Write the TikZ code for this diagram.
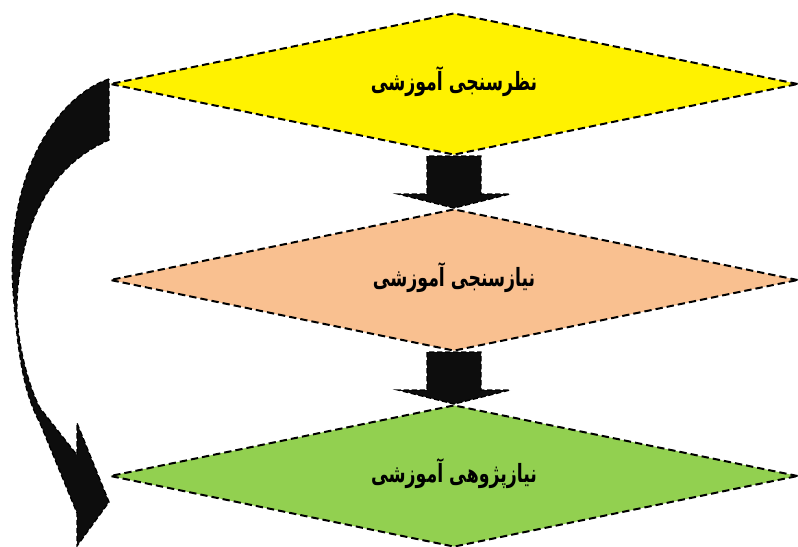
\documentclass[tikz,border=0pt]{standalone}
\usepackage{fontspec}
\newfontfamily\arabicfont[Script=Arabic]{DejaVu Sans}
\TeXXeTstate=1
\usetikzlibrary{shapes.geometric,positioning,calc}
\definecolor{peach}{HTML}{F9C090}
\definecolor{leaf}{HTML}{92D050}
\newcommand{\farsi}[1]{\raisebox{9pt}{\scalebox{1}[1.45]{\beginR #1\endR}}}

\begin{document}
\begin{tikzpicture}[x=0.75pt,y=-0.75pt,node distance=39pt,
    stage/.style={diamond,draw,line width=1.5pt,dash pattern=on 5.5pt off 3pt,
        minimum width=516pt,minimum height=106.5pt,inner sep=0pt,aspect=4.8,
        font=\arabicfont\bfseries\fontsize{13}{16}\selectfont},
    blockarrow/.style={fill=black!95,draw=black,line width=1pt,dash pattern=on 4pt off 2pt}]
    \useasboundingbox (0,0) rectangle (798,546);

    \node[stage,fill=yellow] (nazar) at (454,84) {\farsi{نظرسنجی آموزشی}};
    \node[stage,fill=peach] (niaz) [below=of nazar] {\farsi{نیازسنجی آموزشی}};
    \node[stage,fill=leaf] (pazhuhesh) [below=of niaz] {\farsi{نیازپژوهی آموزشی}};

    % straight arrows between the stages
    \draw[blockarrow] (nazar.south) ++(-27,0) -- ++(0,38) -- ++(-29,0) -- (niaz.north)
        -- ++(56,-14) -- ++(-29,0) -- ++(0,-38) -- cycle;
    \draw[blockarrow] (niaz.south) ++(-27,0) -- ++(0,38) -- ++(-29,0) -- (pazhuhesh.north)
        -- ++(56,-14) -- ++(-29,0) -- ++(0,-38) -- cycle;

    % curved arrow back down the left side
    \draw[blockarrow] ($(nazar.west)+(0,-5)$) .. controls (60,95) and (5,170) .. (13,290)
        .. controls (18,360) and (25,395) .. (40,423) -- (77,513) -- (77,546)
        -- ($(pazhuhesh.west)+(0,26)$) -- (77,423) -- (77,455) -- (40,408)
        .. controls (30,390) and (15,340) .. (17,300)
        .. controls (20,240) and (40,170) .. ($(nazar.west)+(0,56)$) -- cycle;
\end{tikzpicture}
\end{document}
